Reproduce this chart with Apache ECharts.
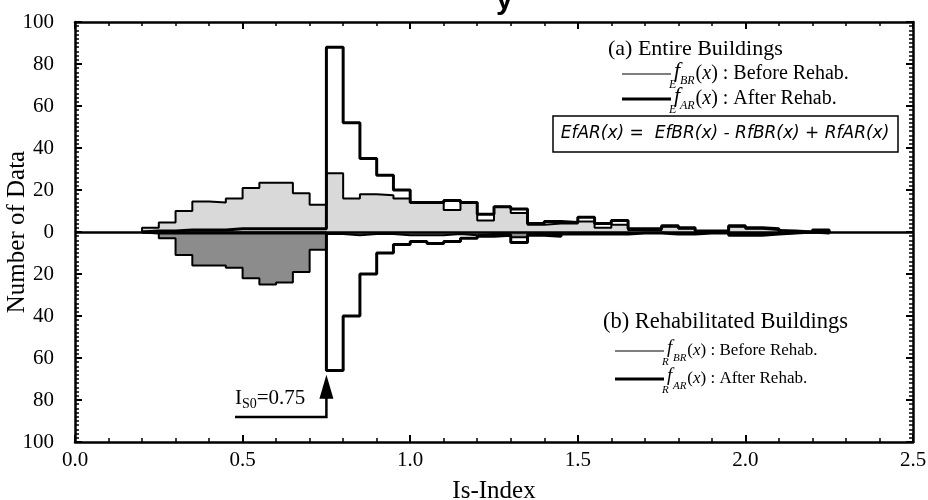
<!DOCTYPE html>
<html>
  <head>
    <meta charset="utf-8" />
  </head>
  <body style="margin:0;background:#fff;">
  <div id="main" style="width: 928px;height:500px;"></div>

  <script type="text/javascript" src="https://cdn.jsdelivr.net/npm/echarts@6/dist/echarts.min.js"></script>
  <script type="text/javascript">
      // bin left edges (width 0.05)
      var binStart = [0.20, 0.25, 0.30, 0.35, 0.40, 0.45, 0.50, 0.55, 0.60, 0.65,
                      0.70, 0.75, 0.80, 0.85, 0.90, 0.95, 1.00, 1.05, 1.10, 1.15,
                      1.20, 1.25, 1.30, 1.35, 1.40, 1.45, 1.50, 1.55, 1.60, 1.65,
                      1.70, 1.75, 1.80, 1.85, 1.90, 1.95, 2.00, 2.05, 2.10, 2.15, 2.20];
      var binWidth = 0.05;

      // (a) entire buildings, before / after rehab
      var entireBefore = [2, 4.5, 10, 14.5, 14, 16, 21, 23.5, 23.5, 18.5,
                          13, 28, 16, 18, 17.5, 16, 14, 14, 10.5, 14,
                          5.5, 12, 9, 3.5, 4, 4, 5, 2, 3.5, 1,
                          1, 2.5, 1.5, 0.5, 0.5, 2.5, 1.5, 1, 0.5, 0, 0.5];
      var entireAfter  = [0.5, 0.5, 1, 1, 1, 1.5, 1.5, 1.5, 1.5, 1.5,
                          1.5, 88, 52, 35, 27, 20, 14, 14, 15, 14,
                          8.5, 12, 11, 4, 5, 4.5, 7, 4, 5.5, 1.5,
                          1.5, 3, 2, 0.5, 0.5, 3, 2, 1.5, 0.5, 0, 1];
      // (b) rehabilitated buildings, drawn downward
      var rehabBefore  = [0.5, 3, 11, 16, 16, 17, 22, 25, 24, 19,
                          8.5, 1, 1.5, 1, 1, 1.5, 1.5, 1.5, 1, 1.5,
                          1, 1, 2.5, 1, 1, 0.5, 0.5, 0.5, 0.5, 0.5,
                          0.5, 0.5, 0.5, 0.5, 0.5, 1, 1, 1, 0.5, 0, 0.5];
      var rehabAfter   = [0.5, 0.5, 0.5, 0.5, 0.5, 0.5, 0.5, 0.5, 0.5, 0.5,
                          0.5, 66, 40, 20, 10, 6, 4.5, 5.5, 4.5, 3,
                          2, 1.5, 5, 1.5, 2, 1, 1, 1, 1, 0.5,
                          0.5, 1, 1, 0.5, 0.5, 1.5, 1.5, 1, 0.5, 0, 0.5];

      var isLimit = 0.75;

      var serif = "'Liberation Serif', 'Times New Roman', serif";

      // turn bins into step points
      function steps(vals, sign) {
        var pts = [[binStart[0], 0]];
        for (var i = 0; i < vals.length; i++) {
          pts.push([binStart[i], sign * vals[i]]);
        }
        pts.push([binStart[binStart.length - 1] + binWidth, 0]);
        return pts;
      }

      var myChart = echarts.init(document.getElementById('main'));

      var axisCommon = {
        axisLine: { onZero: false, lineStyle: { color: '#000', width: 2.5 } },
        axisTick: { inside: true, length: 7, lineStyle: { color: '#000', width: 2 } },
        minorTick: { show: true, length: 4, lineStyle: { color: '#000', width: 1.5 } },
        splitLine: { show: false }
      };

      var option = {
        animation: false,
        grid: { left: 75, right: 15, top: 22, bottom: 58, outerBoundsMode: 'none', containLabel: false },
        xAxis: [
          Object.assign({}, axisCommon, {
            type: 'value', min: 0, max: 2.5, interval: 0.5, position: 'bottom',
            minorTick: Object.assign({}, axisCommon.minorTick, { splitNumber: 5 }),
            axisLabel: { formatter: function (v) { return v.toFixed(1); },
                         fontFamily: serif, fontSize: 21, color: '#000', margin: 8 },
            name: 'Is-Index', nameLocation: 'middle', nameGap: 37,
            nameTextStyle: { fontFamily: serif, fontSize: 25, color: '#000' }
          }),
          Object.assign({}, axisCommon, {
            type: 'value', min: 0, max: 2.5, interval: 0.5, position: 'top',
            minorTick: Object.assign({}, axisCommon.minorTick, { splitNumber: 5 }),
            axisLabel: { show: false }
          })
        ],
        yAxis: [
          Object.assign({}, axisCommon, {
            type: 'value', min: -100, max: 100, interval: 20, position: 'left',
            minorTick: Object.assign({}, axisCommon.minorTick, { splitNumber: 10 }),
            axisLabel: { formatter: function (v) { return Math.abs(v); },
                         fontFamily: serif, fontSize: 21, color: '#000', margin: 21 },
            name: 'Number of Data', nameLocation: 'middle', nameGap: 45, nameMoveOverlap: false,
            nameTextStyle: { fontFamily: serif, fontSize: 25, color: '#000' }
          }),
          Object.assign({}, axisCommon, {
            type: 'value', min: -100, max: 100, interval: 20, position: 'right',
            minorTick: Object.assign({}, axisCommon.minorTick, { splitNumber: 10 }),
            axisLabel: { show: false }
          })
        ],
        series: [
          {
            name: 'E fBR', type: 'line', step: 'end', symbol: 'none',
            data: steps(entireBefore, 1),
            lineStyle: { color: '#000', width: 2 },
            areaStyle: { color: '#d9d9d9', opacity: 1 },
            markLine: {
              silent: true, symbol: 'none', label: { show: false },
              lineStyle: { color: '#000', width: 2.5, type: 'solid' },
              data: [{ yAxis: 0 }]
            }
          },
          {
            name: 'R fBR', type: 'line', step: 'end', symbol: 'none',
            data: steps(rehabBefore, -1),
            lineStyle: { color: '#000', width: 2 },
            areaStyle: { color: '#8c8c8c', opacity: 1 }
          },
          {
            name: 'E fAR', type: 'line', step: 'end', symbol: 'none',
            data: steps(entireAfter, 1),
            lineStyle: { color: '#000', width: 3 }
          },
          {
            name: 'R fAR', type: 'line', step: 'end', symbol: 'none',
            data: steps(rehabAfter, -1),
            lineStyle: { color: '#000', width: 3 }
          }
        ]
      };

      myChart.setOption(option);

      // legend entries with pre-subscript notation
      function fEntry(y, pre, sub, rest, size, thick, x0) {
        var t = '#000';
        var small = Math.round(size * 0.62);
        return [
          { type: 'line', shape: { x1: x0, y1: y, x2: x0 + 49, y2: y },
            style: { stroke: t, lineWidth: thick ? 3 : 1.2 } },
          { type: 'text', x: x0 + 52, y: y - 3,
            style: { text: 'f', font: 'italic ' + (size + 2) + 'px ' + serif, fill: t,
                     textVerticalAlign: 'middle' } },
          { type: 'text', x: x0 + 58, y: y + 7,
            style: { text: sub, font: 'italic ' + small + 'px ' + serif, fill: t,
                     textVerticalAlign: 'middle' } },
          { type: 'text', x: x0 + 47, y: y + 11,
            style: { text: pre, font: 'italic ' + small + 'px ' + serif, fill: t,
                     textVerticalAlign: 'middle' } },
          { type: 'text', x: x0 + 58 + small * 1.3, y: y,
            style: { text: '({i|x}) : ' + rest, font: size + 'px ' + serif, fill: t,
                     textVerticalAlign: 'middle',
                     rich: { i: { fontStyle: 'italic', fontSize: size, fontFamily: serif } } } }
        ];
      }

      var tipX = myChart.convertToPixel({ xAxisIndex: 0 }, isLimit);
      var lowY = myChart.convertToPixel({ yAxisIndex: 0 }, -68);

      var g = [];
      g.push({ type: 'text', x: 496, y: -14,
               style: { text: 'y', font: 'bold 30px "Liberation Sans", sans-serif', fill: '#000',
                        textVerticalAlign: 'top' } });
      g.push({ type: 'text', x: 608, y: 49,
               style: { text: '(a) Entire Buildings', font: '22px ' + serif, fill: '#000',
                        textVerticalAlign: 'middle' } });
      g = g.concat(fEntry(74, 'E', 'BR', 'Before Rehab.', 20, false, 622));
      g = g.concat(fEntry(99, 'E', 'AR', 'After Rehab.', 20, true, 622));
      g.push({ type: 'rect', shape: { x: 553, y: 116, width: 345, height: 36 },
               style: { fill: '#fff', stroke: '#000', lineWidth: 1.5 } });
      g.push({ type: 'text', x: 725, y: 134,
               style: { text: 'EfAR(x) =  EfBR(x) - RfBR(x) + RfAR(x)',
                        font: 'italic 17px "DejaVu Sans", sans-serif', fill: '#000',
                        textAlign: 'center', textVerticalAlign: 'middle' } });

      g.push({ type: 'text', x: 603, y: 322,
               style: { text: '(b) Rehabilitated Buildings', font: '22.5px ' + serif, fill: '#000',
                        textVerticalAlign: 'middle' } });
      g = g.concat(fEntry(351, 'R', 'BR', 'Before Rehab.', 17, false, 615));
      g = g.concat(fEntry(379, 'R', 'AR', 'After Rehab.', 17, true, 615));

      // Is0 arrow
      g.push({ type: 'polyline', shape: { points: [[235, 417], [tipX, 417], [tipX, lowY + 22]] },
               style: { stroke: '#000', lineWidth: 2.5, fill: null } });
      g.push({ type: 'polygon', shape: { points: [[tipX, lowY], [tipX - 7, lowY + 24], [tipX + 7, lowY + 24]] },
               style: { fill: '#000' } });
      g.push({ type: 'text', x: 235, y: 398,
               style: { text: 'I{s|S0}=0.75', font: '21px ' + serif, fill: '#000',
                        textVerticalAlign: 'middle',
                        rich: { s: { fontSize: 14, fontFamily: serif, padding: [13, 0, 0, 0] } } } });

      myChart.setOption({ graphic: g });
  </script>
</body>
</html>
